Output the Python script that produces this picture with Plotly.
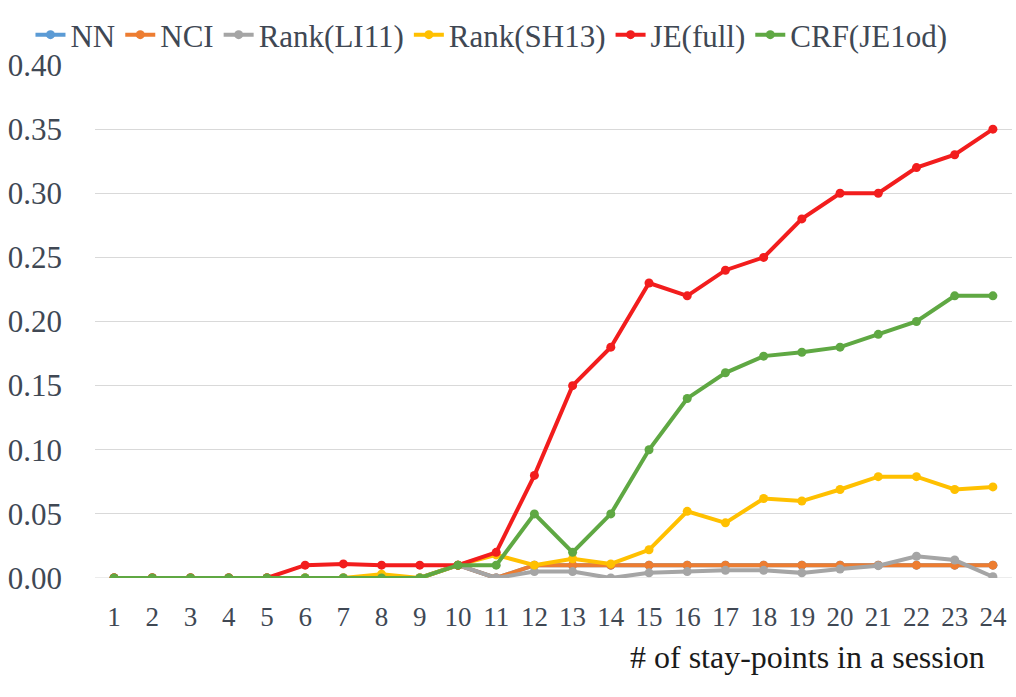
import plotly.graph_objects as go

x_vals = list(range(1, 25))
x_labels = [str(v) for v in x_vals]

nn = [0, 0, 0, 0, 0, 0, 0, 0, 0, 0.01, 0.0, 0.01, 0.01, 0.01, 0.01, 0.01, 0.01, 0.01, 0.01, 0.01, 0.01, 0.01, 0.01, 0.01]
nci = [0, 0, 0, 0, 0, 0, 0, 0, 0, 0.01, 0.0, 0.01, 0.01, 0.01, 0.01, 0.01, 0.01, 0.01, 0.01, 0.01, 0.01, 0.01, 0.01, 0.01]
rank_li11 = [0, 0, 0, 0, 0, 0, 0, 0, 0, 0.01, 0.0, 0.005, 0.005, 0.0, 0.004, 0.005, 0.006, 0.006, 0.004, 0.007, 0.0096, 0.017, 0.014, 0.001]
rank_sh13 = [0, 0, 0, 0, 0, 0, 0, 0.003, 0.0, 0.01, 0.018, 0.01, 0.015, 0.011, 0.022, 0.052, 0.043, 0.062, 0.060, 0.069, 0.079, 0.079, 0.069, 0.071]
je_full = [0, 0, 0, 0, 0, 0.01, 0.011, 0.01, 0.01, 0.01, 0.02, 0.08, 0.15, 0.18, 0.23, 0.22, 0.24, 0.25, 0.28, 0.30, 0.30, 0.32, 0.33, 0.35]
crf = [0, 0, 0, 0, 0, 0, 0, 0, 0, 0.01, 0.01, 0.05, 0.02, 0.05, 0.10, 0.14, 0.16, 0.173, 0.176, 0.18, 0.19, 0.20, 0.22, 0.22]

series = [
    ("NN", nn, "#5B9BD5"),
    ("NCI", nci, "#ED7D31"),
    ("Rank(LI11)", rank_li11, "#A5A5A5"),
    ("Rank(SH13)", rank_sh13, "#FFC000"),
    ("JE(full)", je_full, "#F21D1D"),
    ("CRF(JE1od)", crf, "#5FA843"),
]

y_ticks = [0, 0.05, 0.10, 0.15, 0.20, 0.25, 0.30, 0.35, 0.40]
y_tick_labels = ["%.2f" % v for v in y_ticks]

FONT = "'Times New Roman', 'Liberation Serif', 'DejaVu Serif', serif"
TXT = "#404854"

fig = go.Figure()
for name, vals, col in series:
    fig.add_trace(go.Scatter(
        x=x_labels, y=vals, name=name, mode="lines+markers",
        line=dict(color=col, width=4),
        marker=dict(color=col, size=9, symbol="circle"),
    ))

fig.update_layout(
    width=1016, height=697,
    margin=dict(l=95, r=4, t=65, b=119, autoexpand=False),
    paper_bgcolor="white", plot_bgcolor="white",
    font=dict(family=FONT, color=TXT),
    showlegend=True,
    legend=dict(
        orientation="h", xref="container", yref="container",
        x=0.03, y=1 - 35 / 697, xanchor="left", yanchor="middle",
        font=dict(size=31, family=FONT, color=TXT),
        itemwidth=30, tracegroupgap=0,
        bgcolor="rgba(0,0,0,0)",
    ),
    xaxis=dict(
        type="category", range=[-0.5, 23.5],
        showgrid=False, zeroline=False, showline=False,
        ticks="", tickfont=dict(size=27, family=FONT, color=TXT),
        ticklabelstandoff=20,
    ),
    yaxis=dict(
        range=[0, 0.40], tickvals=y_ticks, ticktext=y_tick_labels,
        showgrid=True, gridcolor="#D9D9D9", gridwidth=1,
        zeroline=False, showline=False,
        ticks="", tickfont=dict(size=31, family=FONT, color=TXT),
        ticklabelstandoff=32,
    ),
    annotations=[dict(
        text="# of stay-points in a session", xref="paper", yref="paper",
        x=(987 - 95) / 917, y=(578 - 657) / 513, xanchor="right", yanchor="middle",
        showarrow=False, font=dict(size=32, family=FONT, color="#1a1a1a"),
    )],
)
fig.add_shape(type="line", xref="paper", yref="y", x0=0, x1=1, y0=0, y1=0,
              line=dict(color="#D9D9D9", width=1), layer="below")

fig.write_html("out.html")
